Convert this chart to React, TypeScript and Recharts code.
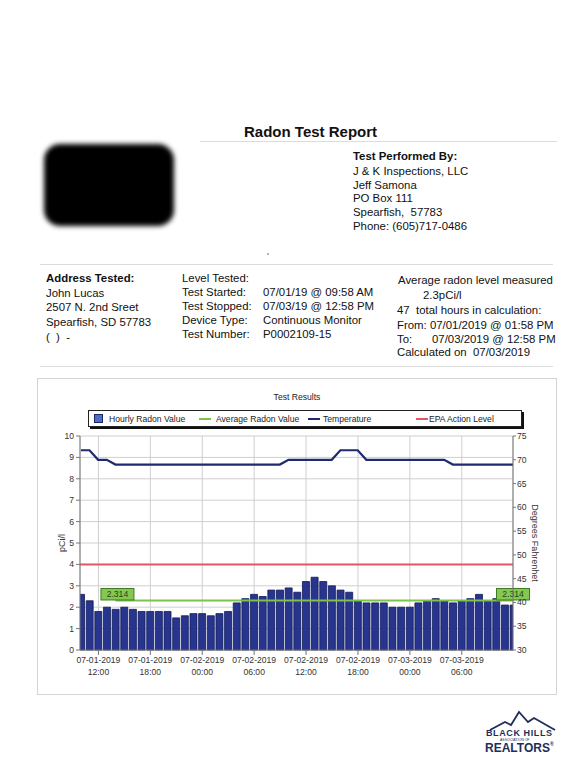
import React from "react";
import {
  ComposedChart,
  Bar,
  Line,
  XAxis,
  YAxis,
  CartesianGrid,
  ReferenceLine,
  Legend,
} from "recharts";

// hourly readings, first one at 07-01 09:58 (hours counted from 07-01 00:00)
const FIRST_READING = 9.967;
const radonValues = [
  2.6, 2.3, 1.8, 2.0, 1.9, 2.0, 1.9, 1.8, 1.8, 1.8,
  1.8, 1.5, 1.6, 1.7, 1.7, 1.6, 1.7, 1.8, 2.2, 2.4,
  2.6, 2.5, 2.8, 2.8, 2.9, 2.7, 3.2, 3.4, 3.2, 3.0,
  2.8, 2.7, 2.3, 2.2, 2.2, 2.2, 2.0, 2.0, 2.0, 2.2,
  2.3, 2.4, 2.3, 2.2, 2.3, 2.4, 2.6, 2.3, 2.4, 2.1,
  2.1,
];
const temperatureValues = [
  72, 72, 70, 70, 69, 69, 69, 69, 69, 69,
  69, 69, 69, 69, 69, 69, 69, 69, 69, 69,
  69, 69, 69, 69, 70, 70, 70, 70, 70, 70,
  72, 72, 72, 70, 70, 70, 70, 70, 70, 70,
  70, 70, 70, 69, 69, 69, 69, 69, 69, 69,
  69,
];
const AVERAGE = 2.314;
const AVERAGE_FROM = 13.967; // 07-01 01:58 PM
const EPA_LEVEL = 4;

const xTicks = [12, 18, 24, 30, 36, 42, 48, 54];
const xTickDates = [
  "07-01-2019", "07-01-2019", "07-02-2019", "07-02-2019",
  "07-02-2019", "07-02-2019", "07-03-2019", "07-03-2019",
];
const xTickTimes = ["12:00", "18:00", "00:00", "06:00", "12:00", "18:00", "00:00", "06:00"];
const radonTicks = [0, 1, 2, 3, 4, 5, 6, 7, 8, 9, 10];
const tempTicks = [30, 35, 40, 45, 50, 55, 60, 65, 70, 75];
const X_DOMAIN = [9.87, 59.92];

const legendItems = [
  { name: "Hourly Radon Value", kind: "square", color: "#4f6fc0" },
  { name: "Average Radon Value", kind: "line", color: "#7dc24b" },
  { name: "Temperature", kind: "line", color: "#1f2b6e" },
  { name: "EPA Action Level", kind: "line", color: "#e25763" },
];

const data = radonValues.map((radon, i) => ({
  t: FIRST_READING + i,
  radon,
  temp: temperatureValues[i],
}));

const FONT = '"Liberation Sans", Arial, sans-serif';
const legendPos = [
  { icon: 5, text: 20 },
  { icon: 110, text: 127 },
  { icon: 219, text: 234 },
  { icon: 327, text: 340 },
];

const LegendBox = () => (
  <div
    style={{
      position: "relative",
      width: 432,
      height: 15,
      border: "1px solid #222",
      boxShadow: "2px 2px 0 #111",
      background: "#fff",
      fontFamily: FONT,
      fontSize: 8.6,
      color: "#222",
    }}
  >
    {legendItems.map((item, i) => (
      <React.Fragment key={item.name}>
        {item.kind === "square" ? (
          <div
            style={{
              position: "absolute",
              left: legendPos[i].icon,
              top: 3,
              width: 7,
              height: 7,
              background: item.color,
              border: "1px solid #1a2770",
            }}
          />
        ) : (
          <div
            style={{
              position: "absolute",
              left: legendPos[i].icon,
              top: 6.5,
              width: 12,
              height: 2,
              background: item.color,
            }}
          />
        )}
        <span style={{ position: "absolute", left: legendPos[i].text, top: 2.5, whiteSpace: "nowrap" }}>
          {item.name}
        </span>
      </React.Fragment>
    ))}
  </div>
);

const XTick = ({ x, y, payload }: any) => {
  const i = xTicks.indexOf(payload.value);
  return (
    <g transform={`translate(${x},${y})`}>
      <text textAnchor="middle" fontSize={8.6} fill="#333" fontFamily={FONT}>
        <tspan x={0} dy={5.5}>{xTickDates[i]}</tspan>
        <tspan x={0} dy={12.5}>{xTickTimes[i]}</tspan>
      </text>
    </g>
  );
};

const AvgTag = ({ cx, y }: { cx: number; y: number }) => (
  <g>
    <rect x={cx - 16.5} y={y - 12} width={33} height={11.5} fill="#86c653" stroke="#3f7a22" strokeWidth={1} />
    <text x={cx} y={y - 3} textAnchor="middle" fontSize={8.6} fill="#1d4a10" fontFamily={FONT}>
      {AVERAGE.toFixed(3)}
    </text>
  </g>
);

const AvgLabels = ({ viewBox }: any) => {
  if (!viewBox) return null;
  const { x, y, width } = viewBox;
  return (
    <g>
      <AvgTag cx={x + 2} y={y} />
      <AvgTag cx={x + width} y={y} />
    </g>
  );
};

const LeftLabel = ({ viewBox }: any) => (
  <text
    transform={`translate(${viewBox.x + viewBox.width - 15},${viewBox.y + viewBox.height / 2}) rotate(-90)`}
    textAnchor="middle"
    fontSize={9}
    fill="#333"
    fontFamily={FONT}
  >
    pCi/l
  </text>
);

const RightLabel = ({ viewBox }: any) => (
  <text
    transform={`translate(${viewBox.x + 19},${viewBox.y + viewBox.height / 2}) rotate(90)`}
    textAnchor="middle"
    fontSize={9}
    fill="#333"
    fontFamily={FONT}
  >
    Degrees Fahrenhet
  </text>
);

const T = ({ x, y, size = 11.4, bold = false, children }: any) => (
  <div
    style={{
      position: "absolute",
      left: x,
      top: y - size * 0.49,
      fontSize: size,
      lineHeight: 1,
      fontWeight: bold ? 700 : 400,
      whiteSpace: "nowrap",
      color: "#111",
    }}
  >
    {children}
  </div>
);

const HLine = ({ x1, x2, y }: any) => (
  <div style={{ position: "absolute", left: x1, top: y, width: x2 - x1, height: 1, background: "#dcdcdc" }} />
);

const App = () => {
  return (
    <div
      style={{
        position: "absolute",
        left: 0,
        top: 0,
        width: 587,
        height: 768,
        background: "#fff",
        fontFamily: FONT,
        overflow: "hidden",
      }}
    >
      <T x={244} y={131} size={15} bold>Radon Test Report</T>
      <HLine x1={200} x2={557} y={141} />

      <div
        style={{
          position: "absolute",
          left: 44,
          top: 144,
          width: 130,
          height: 82,
          background: "#000",
          borderRadius: 16,
          filter: "blur(2.5px)",
        }}
      />

      <T x={353} y={157} bold>Test Performed By:</T>
      <T x={353} y={172}>J &amp; K Inspections, LLC</T>
      <T x={353} y={186}>Jeff Samona</T>
      <T x={353} y={199}>PO Box 111</T>
      <T x={353} y={213}>Spearfish,&nbsp; 57783</T>
      <T x={353} y={227}>Phone: (605)717-0486</T>

      <div style={{ position: "absolute", left: 267, top: 253, width: 2, height: 2, background: "#999", borderRadius: 1 }} />
      <HLine x1={40} x2={553} y={264} />

      <T x={46} y={279} bold>Address Tested:</T>
      <T x={46} y={294}>John Lucas</T>
      <T x={46} y={308}>2507 N. 2nd Sreet</T>
      <T x={46} y={323}>Spearfish, SD 57783</T>
      <T x={46} y={338}>(&nbsp; )&nbsp; -</T>

      <T x={182} y={279}>Level Tested:</T>
      <T x={182} y={293}>Test Started:</T>
      <T x={182} y={307}>Test Stopped:</T>
      <T x={182} y={321}>Device Type:</T>
      <T x={182} y={335}>Test Number:</T>
      <T x={263} y={293}>07/01/19 @ 09:58 AM</T>
      <T x={263} y={307}>07/03/19 @ 12:58 PM</T>
      <T x={263} y={321}>Continuous Monitor</T>
      <T x={263} y={335}>P0002109-15</T>

      <T x={398} y={281}>Average radon level measured</T>
      <T x={423} y={296}>2.3pCi/l</T>
      <T x={397} y={311}>47&nbsp; total hours in calculation:</T>
      <T x={397} y={326}>From: 07/01/2019 @ 01:58 PM</T>
      <T x={397} y={340}>To:</T>
      <T x={432} y={340}>07/03/2019 @ 12:58 PM</T>
      <T x={397} y={353}>Calculated on&nbsp; 07/03/2019</T>
      <HLine x1={40} x2={553} y={366} />

      <div
        style={{
          position: "absolute",
          left: 37,
          top: 378,
          width: 520,
          height: 317,
          border: "1px solid #d4d4d4",
          boxSizing: "border-box",
        }}
      />
      <div
        style={{
          position: "absolute",
          left: 257,
          top: 392,
          width: 80,
          textAlign: "center",
          fontSize: 8.6,
          color: "#222",
        }}
      >
        Test Results
      </div>

      <div style={{ position: "absolute", left: 35, top: 378 }}>
        <ComposedChart
          width={522}
          height={317}
          data={data}
          margin={{ top: 58, right: 0, bottom: 0, left: 0 }}
        >
          <CartesianGrid yAxisId="left" stroke="#cfcfcf" strokeWidth={1} />
          <XAxis
            dataKey="t"
            type="number"
            domain={X_DOMAIN}
            ticks={xTicks}
            allowDataOverflow
            height={45}
            tick={<XTick />}
            tickSize={5}
            tickMargin={2}
            stroke="#777"
            interval={0}
          />
          <YAxis
            yAxisId="left"
            domain={[0, 10]}
            ticks={radonTicks}
            width={45}
            tickSize={4}
            tickMargin={2}
            stroke="#777"
            tick={{ fontSize: 8.6, fill: "#333", fontFamily: FONT }}
            label={<LeftLabel />}
            interval={0}
          />
          <YAxis
            yAxisId="right"
            orientation="right"
            domain={[30, 75]}
            ticks={tempTicks}
            width={44}
            tickSize={3}
            tickMargin={1}
            stroke="#777"
            tick={{ fontSize: 8.6, fill: "#333", fontFamily: FONT }}
            label={<RightLabel />}
            interval={0}
          />
          <Legend
            verticalAlign="middle"
            align="center"
            layout="horizontal"
            wrapperStyle={{ left: 53, top: 32, width: 434, height: 17 }}
            content={<LegendBox />}
          />
          <Bar
            yAxisId="left"
            dataKey="radon"
            name="Hourly Radon Value"
            barSize={7}
            fill="#28358f"
            stroke="#111a55"
            strokeWidth={0.8}
            isAnimationActive={false}
          />
          <ReferenceLine
            yAxisId="left"
            y={EPA_LEVEL}
            stroke="#e25763"
            strokeWidth={2}
            ifOverflow="visible"
          />
          <ReferenceLine
            yAxisId="left"
            segment={[
              { x: AVERAGE_FROM, y: AVERAGE },
              { x: X_DOMAIN[1], y: AVERAGE },
            ]}
            stroke="#7dc24b"
            strokeWidth={2}
            ifOverflow="visible"
            label={<AvgLabels />}
          />
          <Line
            yAxisId="right"
            dataKey="temp"
            name="Temperature"
            type="linear"
            stroke="#1f2b6e"
            strokeWidth={2.2}
            dot={false}
            activeDot={false}
            isAnimationActive={false}
          />
        </ComposedChart>
      </div>

      <svg
        width={587}
        height={768}
        style={{ position: "absolute", left: 0, top: 0, pointerEvents: "none" }}
      >
        <path
          d="M490,730 L505,722 L511,725 L519,712 L528,722 L534,718 L555,730"
          fill="none"
          stroke="#1e2d5c"
          strokeWidth={1.8}
        />
      </svg>
      <div
        style={{
          position: "absolute",
          left: 486,
          top: 729,
          fontSize: 9,
          fontWeight: 700,
          color: "#1e2d5c",
          letterSpacing: 0.6,
          lineHeight: 1,
          whiteSpace: "nowrap",
        }}
      >
        BLACK HILLS
      </div>
      <div
        style={{
          position: "absolute",
          left: 500,
          top: 739,
          fontSize: 3.5,
          color: "#1e2d5c",
          lineHeight: 1,
          whiteSpace: "nowrap",
        }}
      >
        ASSOCIATION OF
      </div>
      <div
        style={{
          position: "absolute",
          left: 485,
          top: 742,
          fontSize: 12,
          fontWeight: 800,
          color: "#1e2d5c",
          lineHeight: 1,
          whiteSpace: "nowrap",
        }}
      >
        REALTORS<span style={{ fontSize: 5, verticalAlign: "top" }}>®</span>
      </div>
    </div>
  );
};

export default App;
